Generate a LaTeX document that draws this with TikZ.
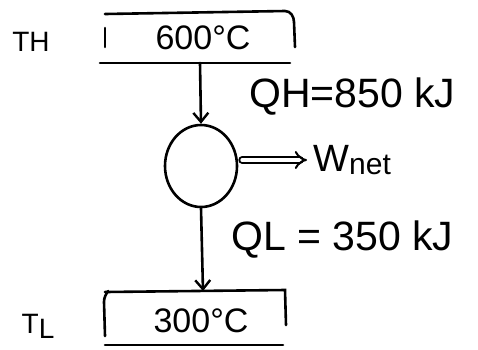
\documentclass[tikz,border=0pt]{standalone}
\usepackage{fontspec}
\setmainfont{Liberation Sans}
\usetikzlibrary{arrows.meta,shapes.geometric}
\begin{document}
\begin{tikzpicture}[x=1pt,y=-1pt,line width=2.6pt,line cap=round,
  lbl/.style={inner sep=0pt,font=\fontsize{28}{30}\selectfont},
  biglbl/.style={inner sep=0pt,font=\fontsize{41}{43}\selectfont},
  tmp/.style={inner sep=0pt,font=\fontsize{34}{36}\selectfont},
  flow/.style={-{Straight Barb[length=9pt,width=15pt,line width=2.4pt]}},
  dbl/.style={double,double distance=4pt,line width=2pt,-{Implies[length=7pt]}}]
\useasboundingbox (0,0) rectangle (478,349);
% hot reservoir
\draw (105,47) -- (105,28);
\draw (105,14) -- (285,11) to[out=0,in=90] (294,22) -- (295,47);
\draw (100,63) -- (290,63);
\node[tmp] (hot) at (203,38) {600°C};
\node[lbl] (th) at (31,42) {TH};
\coordinate (hotbot) at (200,63);
% engine
\node[draw,ellipse,minimum width=72,minimum height=82,inner sep=0pt] (eng) at (201,166) {};
\draw[flow] (hotbot) -- (eng.north);
\node[inner sep=0pt,anchor=west,font=\fontsize{38}{40}\selectfont] (wnet) at (312,160) {W\raisebox{-3pt}{\fontsize{30}{32}\selectfont net}};
\coordinate (ee) at ([xshift=4pt,yshift=6pt]eng.east);
\draw[dbl] (ee) -- ([xshift=-5pt]ee -| wnet.west);
\node[biglbl,anchor=west] (qh) at (248,97) {QH=850 kJ};
\node[biglbl,anchor=west] (ql) at (230,240) {QL = 350 kJ};
% cold reservoir
\coordinate (coldtop) at (203,291);
\draw[flow] (eng.south) -- (coldtop);
\draw (105,292) -- (285,290) -- (286,325);
\draw (108,291) to[out=-120,in=90] (104,302) -- (105,336);
\draw (105,345) -- (283,345);
\node[tmp] (cold) at (201,321) {300°C};
\node[lbl] (tl) at (38,326) {T\raisebox{-5pt}{L}};
\end{tikzpicture}
\end{document}
